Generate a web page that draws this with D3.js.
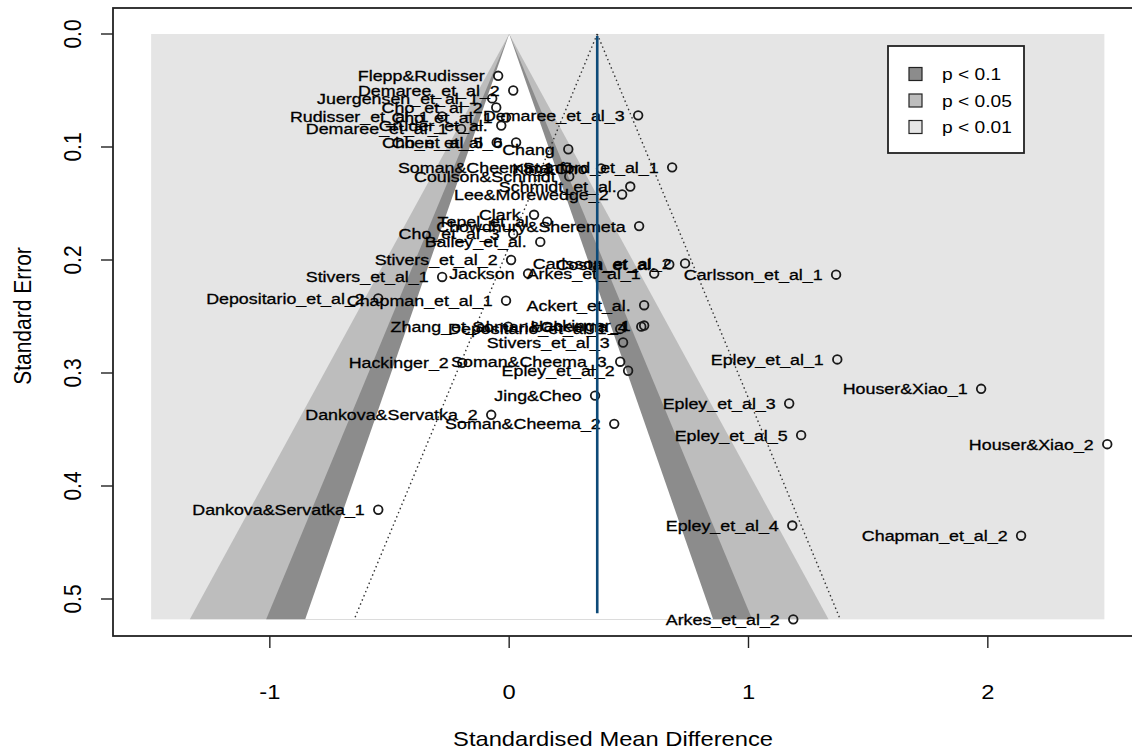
<!DOCTYPE html>
<html>
<head>
<meta charset="utf-8">
<script src="https://cdn.jsdelivr.net/npm/d3@7"></script>
<style>
  body { margin: 0; background: #ffffff; }
  text { font-family: "Liberation Sans", Arial, Helvetica, sans-serif; fill: #000; }
</style>
</head>
<body>
<svg id="chart" width="1132" height="749"></svg>
<script>
// ---- study data: label, standardised mean difference, standard error ----
const studies = [
  "Flepp&Rudisser", "Demaree_et_al_2", "Juergensen_et_al_1", "Cho_et_al_2", "Rudisser_et_al_1",
  "Demaree_et_al_3", "Cho_et_al_1", "Gruder_et_al.", "Demaree_et_al_1", "Cho_et_al_5",
  "Chen_et_al_6", "Chang", "Soman&Cheema_1", "Kim&Cho", "Stanford_et_al_1",
  "Coulson&Schmidt", "Schmidt_et_al.", "Lee&Morewedge_2", "Clark", "Tepel_et_al.",
  "Chowdhury&Sheremeta", "Cho_et_al_3", "Bailey_et_al.", "Stivers_et_al_2", "Costa_et_al.",
  "Carlsson_et_al_2", "Stivers_et_al_1", "Jackson", "Arkes_et_al_1", "Carlsson_et_al_1",
  "Depositario_et_al_2", "Chapman_et_al_1", "Ackert_et_al.", "Zhang_et_al.", "Depositario_et_al_1",
  "Soman&Cheema_4", "Hackinger_1", "Stivers_et_al_3", "Hackinger_2", "Soman&Cheema_3",
  "Epley_et_al_2", "Epley_et_al_1", "Houser&Xiao_1", "Jing&Cheo", "Epley_et_al_3",
  "Dankova&Servatka_2", "Soman&Cheema_2", "Epley_et_al_5", "Houser&Xiao_2", "Dankova&Servatka_1",
  "Epley_et_al_4", "Chapman_et_al_2", "Arkes_et_al_2"
];
const effects = [
  -0.046, 0.017, -0.071, -0.054, -0.280,
   0.539, -0.013, -0.033, -0.201, -0.052,
   0.029, 0.247, 0.242, 0.384, 0.681,
   0.251, 0.506, 0.472, 0.104, 0.159,
   0.543, 0.017, 0.130, 0.008, 0.669,
   0.735, -0.280, 0.079, 0.606, 1.366,
  -0.547, -0.013, 0.564, -0.004, 0.464,
   0.552, 0.564, 0.476, -0.196, 0.464,
   0.497, 1.371, 1.972, 0.359, 1.170,
  -0.075, 0.439, 1.220, 2.499, -0.547,
   1.183, 2.139, 1.187
];
const stdErrors = [
  0.037, 0.050, 0.057, 0.065, 0.073,
  0.072, 0.074, 0.081, 0.084, 0.096,
  0.096, 0.102, 0.118, 0.119, 0.118,
  0.126, 0.135, 0.142, 0.160, 0.166,
  0.170, 0.177, 0.184, 0.200, 0.204,
  0.203, 0.215, 0.212, 0.212, 0.213,
  0.234, 0.236, 0.240, 0.259, 0.261,
  0.259, 0.258, 0.273, 0.291, 0.290,
  0.298, 0.288, 0.314, 0.320, 0.327,
  0.337, 0.345, 0.355, 0.363, 0.421,
  0.435, 0.444, 0.518
];

const xTicks = [-1, 0, 1, 2];
const yTicks = [0.0, 0.1, 0.2, 0.3, 0.4, 0.5];
const pooledEstimate = 0.368;            // summary effect (vertical reference line)
const xLimits = [-1.496, 2.487];         // plotting range of the effect axis
const seLimits = [0, 0.518];             // plotting range of the standard error axis
const contourLabels = ["p < 0.1", "p < 0.05", "p < 0.01"];
const contourZ = [1.645, 1.960, 2.576];  // two-sided critical values for 0.1, 0.05, 0.01
const refZ = 1.960;                      // pseudo-confidence region around the estimate

// ---- layout ----
const svg = d3.select("#chart");
const sx = 1.13;                          // horizontal glyph stretch (axis text)
const sxLabel = 1.19;                     // horizontal glyph stretch (study labels)
const pad = 0.04;                         // axis range expansion
const xSpan = xLimits[1] - xLimits[0];

const x = d3.scaleLinear()
  .domain([xLimits[0] - pad * xSpan, xLimits[1] + pad * xSpan])
  .range([113, 113 + (xSpan * (1 + 2 * pad)) * 239.33]);
const y = d3.scaleLinear()
  .domain([0, 0.5])
  .range([34, 599]);

const frameTop = 8, frameBottom = 636;

function stretched(sel, px, py, rotate, k) {
  return sel.attr("transform",
    `translate(${px},${py}) scale(${k || sx},1)` + (rotate ? ` rotate(${rotate})` : ""));
}

// ---- contour regions ----
const g = svg.append("g");
g.append("rect")
  .attr("x", x(xLimits[0])).attr("y", y(seLimits[0]))
  .attr("width", x(xLimits[1]) - x(xLimits[0]))
  .attr("height", y(seLimits[1]) - y(seLimits[0]))
  .attr("fill", "#e5e5e5");

const shades = ["#ffffff", "#8c8c8c", "#bdbdbd"];
const funnel = z => [[0, 0], [-z * seLimits[1], seLimits[1]], [z * seLimits[1], seLimits[1]]];
const line = d3.line().x(d => x(d[0])).y(d => y(d[1]));
[2, 1, 0].forEach(i => {
  g.append("path")
    .attr("d", line(funnel(contourZ[i])) + "Z")
    .attr("fill", shades[i]);
});

// ---- pseudo-confidence region around the summary estimate ----
[-1, 1].forEach(s => {
  g.append("path")
    .attr("d", line([[pooledEstimate, 0], [pooledEstimate + s * refZ * seLimits[1], seLimits[1]]]))
    .attr("stroke", "#333").attr("stroke-width", 1.4)
    .attr("stroke-dasharray", "1.5,3").attr("fill", "none");
});

// ---- studies ----
const rows = studies.map((name, i) => ({ name, est: effects[i], se: stdErrors[i] }));

const pts = svg.append("g");
pts.selectAll("circle").data(rows).join("circle")
  .attr("cx", d => x(d.est)).attr("cy", d => y(d.se))
  .attr("r", 4.3)
  .attr("fill", "none").attr("stroke", "#1a1a1a").attr("stroke-width", 1.8);

const labels = svg.append("g");
labels.selectAll("text").data(rows).join("text")
  .attr("text-anchor", "end")
  .attr("dy", "0.36em")
  .attr("font-size", 15)
  .attr("stroke", "#000").attr("stroke-width", 0.3)
  .text(d => d.name)
  .each(function(d) { stretched(d3.select(this), x(d.est) - 13.5, y(d.se), null, sxLabel); });

// ---- summary estimate line ----
svg.append("line")
  .attr("x1", x(pooledEstimate)).attr("x2", x(pooledEstimate))
  .attr("y1", y(0) + 2).attr("y2", y(seLimits[1]) - 6)
  .attr("stroke", "#0d4a78").attr("stroke-width", 2.6);

// ---- legend ----
const leg = svg.append("g").attr("transform", "translate(888,46)");
leg.append("rect").attr("width", 136).attr("height", 107)
  .attr("fill", "#fff").attr("stroke", "#222").attr("stroke-width", 1.8);
const legFill = [shades[1], shades[2], "#e5e5e5"];
contourLabels.forEach((lab, i) => {
  const cy = 28 + i * 26.5;
  leg.append("rect").attr("x", 21).attr("y", cy - 6.5).attr("width", 13).attr("height", 13)
    .attr("fill", legFill[i]).attr("stroke", "#222").attr("stroke-width", 1.2);
  stretched(leg.append("text").attr("font-size", 17).attr("dy", "0.36em").text(lab), 54, cy);
});

// ---- frame and axes ----
svg.append("rect")
  .attr("x", x.range()[0]).attr("y", frameTop)
  .attr("width", x.range()[1] - x.range()[0]).attr("height", frameBottom - frameTop)
  .attr("fill", "none").attr("stroke", "#222").attr("stroke-width", 1.8);

const xAxis = svg.append("g");
xTicks.forEach(t => {
  xAxis.append("line").attr("x1", x(t)).attr("x2", x(t))
    .attr("y1", frameBottom).attr("y2", frameBottom + 12)
    .attr("stroke", "#222").attr("stroke-width", 1.4);
  stretched(xAxis.append("text").attr("text-anchor", "middle").attr("font-size", 21)
    .attr("dy", "0.36em").text(String(t)), x(t), 691);
});

const yAxis = svg.append("g");
yTicks.forEach(t => {
  yAxis.append("line").attr("x1", 113).attr("x2", 101)
    .attr("y1", y(t)).attr("y2", y(t))
    .attr("stroke", "#222").attr("stroke-width", 1.4);
  stretched(yAxis.append("text").attr("text-anchor", "middle").attr("font-size", 21)
    .attr("dy", "0.36em").text(d3.format(".1f")(t)), 72, y(t), -90);
});

stretched(svg.append("text").attr("text-anchor", "middle").attr("font-size", 21)
  .attr("dy", "0.36em").text("Standardised Mean Difference"), 613, 738);
stretched(svg.append("text").attr("text-anchor", "middle").attr("font-size", 21)
  .attr("dy", "0.36em").text("Standard Error"), 22, 316, -90);
</script>
</body>
</html>
